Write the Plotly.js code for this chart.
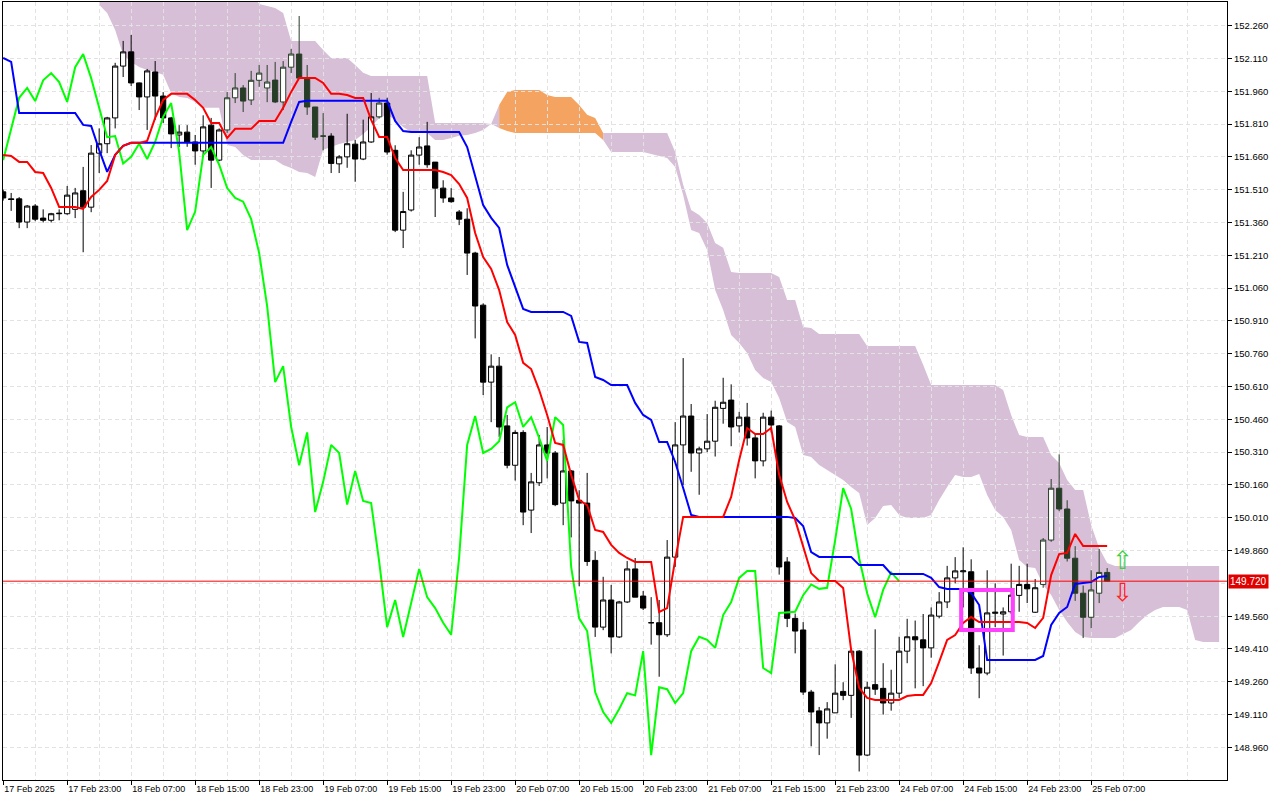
<!DOCTYPE html>
<html><head><meta charset="utf-8">
<script src="https://cdn.plot.ly/plotly-3.0.1.min.js"></script>
<style>html,body{margin:0;padding:0;background:#fff;}#chart{width:1280px;height:800px;}</style>
</head><body><div id="chart"></div>
<script>
// ---- data (H1 chart with Ichimoku) ----
const timeLabels = ["17 Feb 2025","17 Feb 23:00","18 Feb 07:00","18 Feb 15:00","18 Feb 23:00","19 Feb 07:00","19 Feb 15:00","19 Feb 23:00","20 Feb 07:00","20 Feb 15:00","20 Feb 23:00","21 Feb 07:00","21 Feb 15:00","21 Feb 23:00","24 Feb 07:00","24 Feb 15:00","24 Feb 23:00","25 Feb 07:00"];
const priceTicks = ["148.960","149.110","149.260","149.410","149.560","149.860","150.010","150.160","150.310","150.460","150.610","150.760","150.910","151.060","151.210","151.360","151.510","151.660","151.810","151.960","152.110","152.260"];
const open = [151.500,151.468,151.468,151.362,151.435,151.380,151.370,151.400,151.400,151.420,151.505,151.430,151.677,151.720,151.838,152.075,152.140,151.998,151.934,152.048,151.938,151.838,151.760,151.773,151.728,151.687,151.805,151.645,151.783,151.930,151.975,151.920,152.010,151.975,152.011,151.911,152.070,152.130,152.020,151.888,151.755,151.755,151.628,151.660,151.718,151.650,151.728,151.843,151.906,151.690,151.325,151.417,151.668,151.710,151.636,151.517,151.472,151.408,151.375,151.220,150.982,150.630,150.703,150.430,150.250,150.400,150.045,150.170,150.343,150.306,150.077,150.224,150.090,150.077,149.815,149.510,149.634,149.465,149.625,149.776,149.652,149.530,149.530,149.475,149.830,150.343,150.475,150.306,150.325,150.360,150.510,150.548,150.430,150.470,150.375,150.270,150.470,150.430,149.808,149.550,149.497,149.213,149.127,149.072,149.118,149.216,149.198,149.400,148.925,149.247,149.230,149.163,149.208,149.400,149.466,149.452,149.415,149.560,149.625,149.735,149.763,149.763,149.323,149.300,149.573,149.570,149.580,149.655,149.705,149.578,149.705,149.908,150.145,150.050,149.825,149.665,149.555,149.665,149.760];
const high = [151.510,151.495,151.476,151.440,151.444,151.420,151.404,151.420,151.527,151.518,151.614,151.714,151.790,151.843,152.090,152.190,152.217,152.000,152.062,152.098,151.956,151.843,151.805,151.805,151.760,151.850,151.838,151.790,151.956,152.043,151.988,152.053,152.080,152.080,152.094,152.098,152.153,152.304,152.080,151.888,151.860,151.768,151.668,151.857,151.737,151.830,151.952,151.930,151.930,151.713,151.500,151.690,151.750,151.820,151.636,151.553,151.517,151.417,151.425,151.226,150.990,150.757,150.745,150.480,150.410,150.410,150.215,150.388,150.425,150.315,150.366,150.228,150.136,150.215,149.857,149.740,149.703,149.630,149.812,149.826,149.675,149.647,149.634,149.908,150.447,150.740,150.530,150.335,150.484,150.545,150.650,150.620,150.494,150.535,150.397,150.490,150.500,150.434,149.830,149.572,149.533,149.223,149.145,149.167,149.340,149.258,149.405,149.405,149.260,149.500,149.345,149.315,149.466,149.548,149.540,149.570,149.600,149.670,149.790,149.830,149.875,149.820,149.427,149.770,149.710,149.600,149.800,149.790,149.800,149.730,149.917,150.187,150.300,150.090,149.880,149.700,149.770,149.867,149.780];
const low = [151.460,151.413,151.334,151.334,151.366,151.360,151.360,151.370,151.395,151.380,151.224,151.407,151.586,151.677,151.790,152.025,151.984,151.874,151.783,151.829,151.815,151.700,151.705,151.706,151.624,151.660,151.518,151.640,151.770,151.906,151.865,151.897,151.980,151.910,151.906,151.874,152.043,152.020,151.852,151.737,151.690,151.586,151.586,151.610,151.546,151.645,151.724,151.835,151.670,151.316,151.243,151.410,151.624,151.610,151.385,151.450,151.450,151.348,151.120,150.830,150.571,150.447,150.380,150.236,150.180,149.976,149.940,150.155,150.190,150.063,149.976,149.920,149.697,149.790,149.465,149.496,149.390,149.460,149.620,149.647,149.588,149.430,149.283,149.465,149.785,150.160,150.220,150.115,150.310,150.290,150.440,150.337,150.400,150.340,150.190,150.245,150.400,149.750,149.510,149.390,149.200,148.965,148.925,149.000,149.118,149.176,149.095,148.850,148.920,149.200,149.110,149.128,149.185,149.345,149.230,149.240,149.370,149.550,149.597,149.710,149.600,149.296,149.185,149.290,149.510,149.380,149.570,149.580,149.620,149.575,149.690,149.900,150.040,149.810,149.630,149.460,149.505,149.620,149.720];
const close = [151.472,151.465,151.362,151.435,151.375,151.370,151.400,151.402,151.485,151.495,151.430,151.677,151.720,151.838,152.075,152.140,151.998,151.934,152.053,151.938,151.838,151.765,151.773,151.728,151.687,151.797,151.645,151.783,151.930,151.975,151.915,152.010,152.043,152.002,151.911,152.070,152.130,152.020,151.888,151.750,151.755,151.630,151.660,151.720,151.650,151.728,151.843,151.906,151.682,151.325,151.410,151.668,151.705,151.624,151.517,151.472,151.455,151.375,151.220,150.978,150.630,150.703,150.425,150.250,150.400,150.036,150.174,150.343,150.306,150.070,150.224,150.087,150.077,149.810,149.510,149.634,149.465,149.625,149.776,149.647,149.597,149.530,149.475,149.830,150.343,150.475,150.306,150.325,150.360,150.515,150.538,150.425,150.470,150.375,150.270,150.470,150.434,149.785,149.550,149.492,149.213,149.122,149.072,149.136,149.208,149.198,149.400,148.925,149.235,149.226,149.163,149.208,149.400,149.466,149.452,149.415,149.565,149.625,149.735,149.767,149.767,149.323,149.300,149.575,149.578,149.580,149.656,149.705,149.685,149.690,149.908,150.145,150.050,149.825,149.665,149.555,149.680,149.760,149.720];
const tenkan = [151.669,151.664,151.637,151.637,151.591,151.586,151.518,151.431,151.431,151.431,151.422,151.477,151.509,151.550,151.669,151.710,151.724,151.724,151.733,151.838,151.920,151.948,151.948,151.948,151.920,151.884,151.815,151.815,151.746,151.788,151.788,151.788,151.824,151.824,151.824,151.884,151.957,152.021,152.021,152.021,151.998,151.948,151.948,151.943,151.929,151.929,151.829,151.751,151.751,151.655,151.600,151.600,151.600,151.600,151.600,151.591,151.577,151.536,151.472,151.312,151.202,151.148,151.051,150.905,150.846,150.718,150.690,150.594,150.480,150.352,150.343,150.206,150.091,150.068,149.954,149.945,149.886,149.849,149.826,149.808,149.808,149.808,149.579,149.597,149.817,150.014,150.014,150.014,150.014,150.014,150.014,150.105,150.274,150.420,150.393,150.393,150.420,150.206,150.082,150.000,149.876,149.757,149.721,149.721,149.721,149.689,149.405,149.232,149.186,149.177,149.177,149.177,149.177,149.195,149.200,149.200,149.254,149.351,149.451,149.474,149.529,149.556,149.533,149.533,149.533,149.533,149.533,149.533,149.529,149.506,149.552,149.748,149.844,149.849,149.936,149.881,149.881,149.881,149.881];
const kijun = [152.112,152.094,151.861,151.861,151.861,151.861,151.861,151.861,151.861,151.861,151.806,151.801,151.692,151.591,151.669,151.710,151.724,151.724,151.724,151.724,151.724,151.724,151.724,151.724,151.724,151.724,151.724,151.724,151.724,151.724,151.724,151.724,151.724,151.724,151.724,151.724,151.820,151.911,151.916,151.916,151.916,151.916,151.916,151.916,151.916,151.916,151.916,151.916,151.916,151.824,151.778,151.774,151.774,151.774,151.774,151.774,151.774,151.774,151.705,151.577,151.440,151.381,151.335,151.166,151.061,150.965,150.951,150.951,150.951,150.951,150.951,150.933,150.814,150.809,150.654,150.640,150.617,150.617,150.617,150.535,150.480,150.457,150.356,150.356,150.265,150.146,150.023,150.014,150.014,150.014,150.014,150.014,150.014,150.014,150.014,150.014,150.014,150.014,150.014,150.009,149.972,149.853,149.831,149.831,149.831,149.831,149.831,149.794,149.794,149.794,149.794,149.753,149.753,149.753,149.753,149.753,149.735,149.693,149.684,149.684,149.684,149.666,149.611,149.360,149.360,149.360,149.360,149.360,149.360,149.360,149.378,149.520,149.575,149.602,149.707,149.712,149.716,149.739,149.744];
// Senkou spans, bars 12..152 (shifted 26 ahead)
const cloudStart = 12;
const senkouA = [152.355,152.318,152.240,152.126,152.094,152.071,152.057,152.048,152.035,151.952,151.934,151.929,151.911,151.884,151.884,151.884,151.714,151.705,151.669,151.646,151.646,151.646,151.646,151.623,151.609,151.591,151.586,151.568,151.692,151.705,151.719,151.728,151.737,151.765,151.797,151.838,151.852,151.829,151.797,151.774,151.774,151.769,151.737,151.737,151.746,151.756,151.760,151.769,151.783,151.810,151.897,151.957,151.966,151.966,151.966,151.966,151.943,151.934,151.934,151.934,151.897,151.852,151.838,151.737,151.682,151.682,151.682,151.682,151.682,151.673,151.664,151.655,151.614,151.486,151.326,151.312,151.234,151.051,150.960,150.846,150.809,150.763,150.686,150.649,150.631,150.558,150.448,150.425,150.297,150.288,150.251,150.228,150.206,150.183,150.151,150.123,149.977,150.009,150.064,150.068,150.023,150.009,150.009,150.009,150.023,150.091,150.151,150.206,150.196,150.196,150.210,150.114,150.046,150.014,149.954,149.817,149.785,149.780,149.703,149.657,149.588,149.533,149.488,149.465,149.460,149.460,149.460,149.460,149.479,149.497,149.533,149.565,149.588,149.602,149.602,149.602,149.588,149.451,149.442,149.442,149.442];
const senkouB = [152.420,152.420,152.420,152.420,152.420,152.420,152.420,152.420,152.420,152.420,152.420,152.420,152.420,152.420,152.420,152.420,152.420,152.420,152.420,152.420,152.359,152.350,152.341,152.318,152.190,152.190,152.190,152.190,152.149,152.112,152.112,152.112,152.080,152.044,152.030,152.030,152.030,152.030,152.030,152.030,152.030,152.030,151.815,151.815,151.815,151.815,151.815,151.815,151.815,151.810,151.792,151.778,151.769,151.769,151.769,151.769,151.769,151.769,151.769,151.769,151.769,151.769,151.769,151.769,151.769,151.769,151.769,151.769,151.769,151.769,151.769,151.769,151.682,151.532,151.417,151.394,151.358,151.266,151.244,151.134,151.129,151.129,151.129,151.129,151.129,151.111,151.006,151.006,150.882,150.878,150.850,150.850,150.850,150.850,150.850,150.850,150.795,150.795,150.795,150.795,150.795,150.795,150.795,150.709,150.617,150.617,150.617,150.617,150.617,150.617,150.617,150.617,150.617,150.594,150.480,150.388,150.379,150.379,150.379,150.297,150.260,150.183,150.137,150.137,149.977,149.872,149.803,149.789,149.789,149.789,149.789,149.789,149.789,149.789,149.789,149.789,149.789,149.789,149.789,149.789,149.789];
const currentPrice = 149.720;
const signalBar = [139.9, 139.9];
const signalPrice = [149.803, 149.657];
const signalText = ["\u21E7", "\u21E9"];
const markedZone = {bar0: 119.75, bar1: 126.2, price0: 149.497, price1: 149.680};

// ---- build ----
const idx = close.map((_, i) => i);
const cloudIdx = senkouA.map((_, k) => k + cloudStart);
const m = senkouA.length;
const cloudShapes = [];
// cloud drawn as below-layer path shapes (under the candles), one polygon per run of A>B / A<B
function pushRun(s, e) {
  const up = senkouA[s] > senkouB[s] || (s + 1 <= e && senkouA[s + 1] > senkouB[s + 1]);
  const pts = [];
  for (let k = s; k <= e; k++) pts.push([cloudIdx[k], Math.max(senkouA[k], senkouB[k])]);
  for (let k = e; k >= s; k--) pts.push([cloudIdx[k], Math.min(senkouA[k], senkouB[k])]);
  const path = pts.map((p, j) => (j ? 'L' : 'M') + p[0] + ',' + p[1]).join(' ') + ' Z';
  cloudShapes.push({type: 'path', xref: 'x', yref: 'y', path: path, layer: 'below',
    fillcolor: up ? '#F4A460' : '#D8BFD8', line: {width: 0}});
}
let runStart = 0;
for (let k = 1; k < m; k++) {
  const a = senkouA[k] > senkouB[k], b = senkouA[k - 1] > senkouB[k - 1];
  if (a !== b) { pushRun(runStart, k); runStart = k; }
}
pushRun(runStart, m - 1);

// candles sitting inside the cloud render dark green on the source platform
function inCloud(i) {
  const k = i - cloudStart;
  if (k < 0 || k >= m) return false;
  const mid = (open[i] + close[i]) / 2;
  return mid <= Math.max(senkouA[k], senkouB[k]) && mid >= Math.min(senkouA[k], senkouB[k]);
}
function candleTrace(sel, col) {
  const ii = idx.filter(sel);
  return {type: 'candlestick', x: ii, open: ii.map(i => open[i]), high: ii.map(i => high[i]),
    low: ii.map(i => low[i]), close: ii.map(i => close[i]), whiskerwidth: 0,
    increasing: {line: {color: col, width: 1}, fillcolor: '#ffffff'},
    decreasing: {line: {color: col, width: 1}, fillcolor: col}, hoverinfo: 'skip'};
}
const traces = [candleTrace(i => !inCloud(i), '#000000'), candleTrace(i => inCloud(i), '#283d28')];
// chikou span = close shifted back 26 bars
const chikou = close.slice(26);
traces.push({type: 'scatter', mode: 'lines', x: chikou.map((_, i) => i), y: chikou, line: {color: '#00ff00', width: 2}, hoverinfo: 'skip'});
traces.push({type: 'scatter', mode: 'lines', x: idx, y: kijun, line: {color: '#0000ff', width: 2}, hoverinfo: 'skip'});
traces.push({type: 'scatter', mode: 'lines', x: idx, y: tenkan, line: {color: '#ff0000', width: 2}, hoverinfo: 'skip'});
traces.push({type: 'scatter', mode: 'text', x: signalBar, y: signalPrice, text: signalText,
  textfont: {size: 25, color: ['#3fcf3f', '#ff2020'], family: 'DejaVu Sans'}, hoverinfo: 'skip'});

const tickVals = timeLabels.map((_, k) => k * 8);
const gridCol = '#e2e2e2';
const layout = {
  width: 1280, height: 800, showlegend: false,
  margin: {l: 3, r: 53, t: 2, b: 20},
  paper_bgcolor: '#ffffff', plot_bgcolor: '#ffffff',
  font: {family: 'Liberation Sans, Arial, sans-serif', size: 9, color: '#000000'},
  boxmode: 'overlay', boxgap: 0.35, boxgroupgap: 0,
  xaxis: {range: [-0.02, 152.98], rangeslider: {visible: false}, tickmode: 'array', tickvals: tickVals, ticktext: timeLabels,
    ticks: 'outside', ticklen: 4, tickcolor: '#000', ticklabelposition: 'outside right',
    showgrid: true, gridcolor: gridCol, griddash: '4px,3px', gridwidth: 1,
    minor: {tickmode: 'linear', tick0: 4, dtick: 8, showgrid: true, gridcolor: gridCol, griddash: '4px,3px', ticks: ''},
    showline: true, linecolor: '#000', linewidth: 1, mirror: true, zeroline: false, fixedrange: true},
  yaxis: {range: [148.811, 152.368], side: 'right', tickmode: 'array', tickvals: priceTicks.map(Number), ticktext: priceTicks,
    ticks: 'outside', ticklen: 4, tickcolor: '#000', tickfont: {size: 9.5},
    showgrid: true, gridcolor: gridCol, griddash: '4px,3px', gridwidth: 1,
    showline: true, linecolor: '#000', linewidth: 1, mirror: true, zeroline: false, fixedrange: true},
  shapes: cloudShapes.concat([
    {type: 'line', xref: 'paper', x0: 0, x1: 1, yref: 'y', y0: 149.710, y1: 149.710, layer: 'below', line: {color: gridCol, width: 1, dash: '4px,3px'}},
    {type: 'line', xref: 'paper', x0: 0, x1: 1, yref: 'y', y0: currentPrice, y1: currentPrice, line: {color: '#ff0000', width: 1}},
    {type: 'rect', xref: 'x', yref: 'y', x0: markedZone.bar0, x1: markedZone.bar1, y0: markedZone.price0, y1: markedZone.price1,
      line: {color: '#ff40ff', width: 4}, fillcolor: 'rgba(0,0,0,0)'}
  ]),
  annotations: [
    {xref: 'paper', x: 1, xanchor: 'left', xshift: 1, yref: 'y', y: currentPrice, yanchor: 'middle', text: currentPrice.toFixed(3),
      showarrow: false, bgcolor: '#e00000', font: {color: '#ffffff', size: 10, family: 'Liberation Sans, Arial, sans-serif'}, borderpad: 1}
  ]
};
Plotly.newPlot('chart', traces, layout, {displayModeBar: false, staticPlot: true});
</script></body></html>
